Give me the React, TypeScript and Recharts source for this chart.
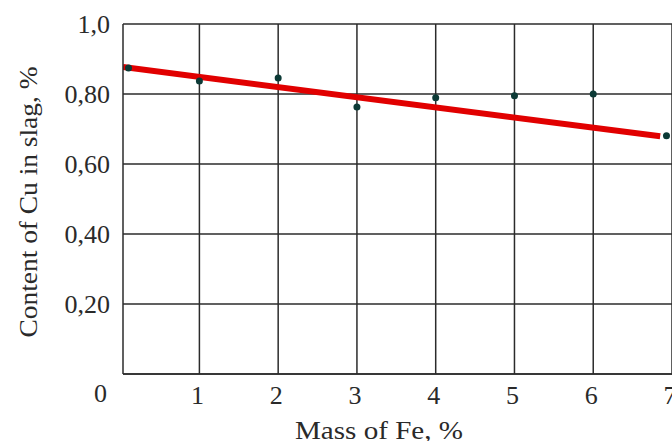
import {
  ComposedChart,
  Scatter,
  Line,
  XAxis,
  YAxis,
  CartesianGrid,
} from 'recharts'

// measured points
const massFe = [0.1, 1, 2, 3, 4, 5, 6, 6.93]
const cuContent = [0.874, 0.837, 0.846, 0.763, 0.789, 0.795, 0.8, 0.681]

// fitted trend line (two ends)
const fitX = [0.03, 6.85]
const fitY = [0.877, 0.679]

const xTicks = [1, 2, 3, 4, 5, 6, 7]
const yTicks = [0, 0.2, 0.4, 0.6, 0.8, 1.0]
const yTickLabels = ['0', '0,20', '0,40', '0,60', '0,80', '1,0']

const points = massFe.map((x, i) => ({ x, y: cuContent[i] }))
const fit = fitX.map((x, i) => ({ x, y: fitY[i] }))

const FONT = "'Liberation Serif', 'Times New Roman', serif"
const TEXT = '#2a2a2a'
const textStyle = { fontFamily: FONT }

function YTick(props: any) {
  const { payload } = props
  const i = yTicks.indexOf(payload.value)
  const isZero = payload.value === 0
  return (
    <text
      x={isZero ? 107 : 110}
      y={isZero ? payload.coordinate + 19 : payload.coordinate}
      textAnchor="end"
      dominantBaseline="central"
      style={textStyle}
      fontSize={26}
      fill={TEXT}
    >
      {i >= 0 ? yTickLabels[i] : payload.value}
    </text>
  )
}

function XTick(props: any) {
  const { payload } = props
  return (
    <text
      x={payload.coordinate - 2}
      y={395}
      textAnchor="middle"
      dominantBaseline="central"
      style={textStyle}
      fontSize={26}
      fill={TEXT}
    >
      {payload.value}
    </text>
  )
}

const Dot = (p: any) => <circle cx={p.cx} cy={p.cy} r={3.5} fill="#0c3a36" />

export default function App() {
  return (
    <div style={{ position: 'absolute', left: 0, top: 0, background: '#fff' }}>
      <ComposedChart
        width={672}
        height={441}
        margin={{ top: 24, right: 0, bottom: 0, left: 0 }}
      >
        <CartesianGrid
          stroke="#2b2b2b"
          strokeWidth={1.5}
          horizontalValues={yTicks}
          verticalValues={xTicks}
        />
        <XAxis
          type="number"
          dataKey="x"
          domain={[0.03, 7]}
          ticks={xTicks}
          allowDataOverflow
          height={67}
          axisLine={{ stroke: '#2b2b2b', strokeWidth: 1.5 }}
          tickLine={false}
          tick={<XTick />}
          label={{
            content: () => (
              <text
                x={379}
                y={430}
                textAnchor="middle"
                dominantBaseline="central"
                style={textStyle}
                fontSize={26}
                textLength={168}
                lengthAdjust="spacingAndGlyphs"
                fill={TEXT}
              >
                Mass of Fe, %
              </text>
            ),
          }}
        />
        <YAxis
          type="number"
          dataKey="y"
          domain={[0, 1]}
          ticks={yTicks}
          width={123}
          axisLine={{ stroke: '#2b2b2b', strokeWidth: 1.5 }}
          tickLine={false}
          tick={<YTick />}
          label={{
            content: () => (
              <text
                x={28}
                y={202}
                transform="rotate(-90, 28, 202)"
                textAnchor="middle"
                dominantBaseline="central"
                style={textStyle}
                fontSize={26}
                textLength={271}
                lengthAdjust="spacingAndGlyphs"
                fill={TEXT}
              >
                Content of Cu in slag, %
              </text>
            ),
          }}
        />
        <Line
          data={fit}
          dataKey="y"
          type="linear"
          stroke="#e10000"
          strokeWidth={6}
          dot={false}
          activeDot={false}
          isAnimationActive={false}
        />
        <Scatter data={points} dataKey="y" shape={Dot} isAnimationActive={false} />
      </ComposedChart>
    </div>
  )
}
